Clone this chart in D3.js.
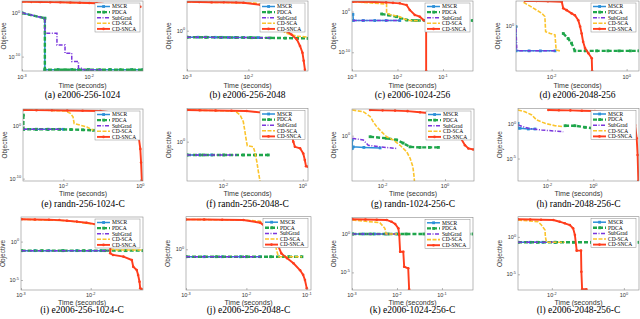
<!DOCTYPE html>
<html><head><meta charset="utf-8">
<script src="https://cdn.jsdelivr.net/npm/d3@7"></script>
<style>
body{margin:0;background:#fff}
svg{display:block}
</style></head><body>
<script>
//series + captions
const seriesNames = ['MSCR','PDCA','SubGrad','CD-SCA','CD-SNCA']
const captions = ['(a) e2006-256-1024','(b) e2006-256-2048','(c) e2006-1024-256','(d) e2006-2048-256',
  '(e) randn-256-1024-C','(f) randn-256-2048-C','(g) randn-1024-256-C','(h) randn-2048-256-C',
  '(i) e2006-256-1024-C','(j) e2006-256-2048-C','(k) e2006-1024-256-C','(l) e2006-2048-256-C']

//axis limits and ticks, as log10 exponents
const xLims = [[-3,-1.2],[-3,-1.03],[-3,-0.34],[-2.95,0.33],[-3.05,0.07],[-2.92,0.13],[-2.98,0.93],[-3.28,1.99],[-3,-1.25],[-3,-0.93],[-3,-0.31],[-2.94,0.42]]
const yLims = [[-13.3,2.75],[-0.95,0.7],[-14.6,2.6],[-0.98,0.55],[-10.45,3.2],[-0.77,0.65],[-0.85,0.5],[-8.3,2.35],[-6.3,3.2],[-0.875,0.7],[-7.3,2.2],[-7.1,2.7]]
const xTicks = [[-3,-2],[-3,-2],[-3,-2,-1],[-2,0],[-2,0],[-2,0],[-2,0],[-2,0],[-3,-2],[-3,-2,-1],[-3,-2,-1],[-2,0]]
const yTicks = [[0,-10],[0],[0,-10],[0],[0,-10],[0],[0],[0,-5],[0,-5],[0],[0,-5],[0,-5]]

//data: [log10 time, log10 objective]
const dataA = {
  'MSCR':[[-3,0],[-2.66,-1.2],[-2.66,-13],[-2.46,-13],[-2.26,-13],[-2.01,-13],[-1.69,-13],[-1.37,-13],[-1.2,-13]],
  'PDCA':[[-3,0],[-2.66,-1.2],[-2.66,-13],[-2.46,-13],[-2.36,-13],[-2.26,-13],[-2.16,-13],[-2.01,-13],[-1.84,-13],[-1.69,-13],[-1.54,-13],[-1.37,-13],[-1.2,-13]],
  'SubGrad':[[-3,0.05],[-2.66,-1.2],[-2.66,-4.65],[-2.48,-4.65],[-2.48,-7.33],[-2.36,-7.33],[-2.36,-9.23],[-2.26,-9.23],[-2.26,-11.15],[-2.16,-11.15],[-2.16,-12.66],[-2.09,-12.66],[-2.09,-13],[-1.81,-13]],
  'CD-SCA':[[-3,2.59],[-2.43,2.45],[-1.89,2.22]],
  'CD-SNCA':[[-3,2.59],[-2.86,2.56],[-2.73,2.52],[-2.58,2.49],[-2.43,2.45],[-2.28,2.4],[-2.14,2.36],[-2,2.3],[-1.89,2.22],[-1.69,1.95],[-1.47,1.72],[-1.24,1.44]]
}
const dataB = {
  'MSCR':[[-3,-0.153],[-2.82,-0.154],[-2.68,-0.155],[-2.54,-0.156],[-2.43,-0.157],[-2.33,-0.158],[-2.22,-0.159],[-2.08,-0.16],[-1.97,-0.161],[-1.84,-0.162]],
  'PDCA':[[-3,-0.153],[-2.7,-0.155],[-2.45,-0.157],[-2.2,-0.16],[-1.95,-0.165],[-1.65,-0.17],[-1.4,-0.175],[-1.2,-0.178],[-1.03,-0.18]],
  'SubGrad':[[-3,-0.153],[-1.65,-0.167]],
  'CD-SCA':[[-3,0.68],[-1.89,0.65],[-1.65,0.57],[-1.49,0.18],[-1.46,0.026],[-1.4,-0.05],[-1.32,-0.09],[-1.21,-0.13],[-1.03,-0.15]],
  'CD-SNCA':[[-3,0.68],[-2.8,0.675],[-2.6,0.67],[-2.4,0.67],[-2.2,0.665],[-2.08,0.66],[-1.81,0.61],[-1.54,0.26],[-1.38,-0.01],[-1.3,-0.09],[-1.21,-0.21],[-1.16,-0.36],[-1.12,-0.52],[-1.1,-0.71],[-1.08,-0.92]]
}
const dataC = {
  'MSCR':[[-2.98,-0.7],[-2.97,-2.2],[-2.75,-2.2],[-2.5,-2.2],[-2.25,-2.2],[-1.95,-2.2]],
  'PDCA':[[-2.35,-0.59],[-2.2,-0.84],[-2.02,-1.26],[-1.8,-2.07],[-1.6,-2.2],[-1.35,-2.2],[-1.1,-2.2],[-0.85,-2.2],[-0.6,-2.2],[-0.34,-2.2]],
  'SubGrad':[[-2.98,-2.2],[-1.95,-2.2]],
  'CD-SCA':[[-2.98,2.43],[-2.24,1.86],[-2.24,-0.42],[-2.13,-0.84],[-1.95,-1.26],[-1.84,-1.9],[-1.73,-2.2],[-1.51,-2.25]],
  'CD-SNCA':[[-2.98,2.43],[-2.75,2.4],[-2.5,2.35],[-2.25,2.25],[-2.1,2.15],[-1.95,2.03],[-1.8,1.62],[-1.73,0.39],[-1.62,-0.84],[-1.51,-1.26],[-1.43,-2.07],[-1.37,-2.49],[-1.37,-14.6]]
}
const dataD = {
  'MSCR':[[-2.95,-0.01],[-2.95,-0.54],[-2.6,-0.54],[-2.3,-0.54],[-1.91,-0.54]],
  'PDCA':[[-1.69,-0.16],[-1.56,-0.27],[-1.47,-0.37],[-1.38,-0.54],[-1.1,-0.54],[-0.8,-0.54],[-0.5,-0.54],[-0.2,-0.54],[0.1,-0.54],[0.33,-0.54]],
  'SubGrad':[[-2.95,-0.05],[-2.93,-0.48],[-2.9,-0.54],[-1.91,-0.54]],
  'CD-SCA':[[-2.75,0.52],[-2.62,0.46],[-2.4,0.35],[-2.26,0.28],[-2.18,0.21],[-2.16,-0.12],[-2.04,-0.16],[-1.91,-0.19],[-1.88,-0.52],[-1.78,-0.54]],
  'CD-SNCA':[[-2.71,0.55],[-2.4,0.55],[-2.1,0.545],[-1.73,0.535],[-1.69,0.39],[-1.6,0.35],[-1.47,0.28],[-1.38,0.24],[-1.29,0.13],[-1.24,-0.01],[-1.2,-0.16],[-1.16,-0.34],[-1.11,-0.48],[-1.02,-0.59],[-0.93,-0.7],[-0.92,-0.98]]
}
const dataE = {
  'MSCR':[[-3.04,-0.65],[-2.7,-0.65],[-2.4,-0.65],[-2,-0.65]],
  'PDCA':[[-3.04,2.05],[-3.04,-0.65],[-2.7,-0.65],[-2.4,-0.65],[-2.1,-0.65],[-1.8,-0.7],[-1.5,-0.75],[-1.22,-0.84]],
  'SubGrad':[[-3.04,-0.65],[-2,-0.65]],
  'CD-SCA':[[-3.04,3],[-2.4,2.95],[-1.95,2.82],[-1.82,2.37],[-1.75,1.72],[-1.72,0.45],[-1.56,0.12],[-1.39,-0.2],[-1.22,-0.84]],
  'CD-SNCA':[[-3.04,3],[-2.7,2.98],[-2.3,2.95],[-1.9,2.92],[-1.5,2.88],[-1.04,2.82],[-0.52,2.37],[-0.26,1.72],[-0.09,-0.51],[-0.04,-2.13],[0,-4.36],[0.02,-6.93],[0.04,-10.45]]
}
const dataF = {
  'MSCR':[[-2.92,-0.26],[-2.6,-0.26],[-2.3,-0.26]],
  'PDCA':[[-2.92,-0.26],[-2.5,-0.26],[-2,-0.26],[-1.5,-0.26],[-1.2,-0.26],[-0.87,-0.26]],
  'SubGrad':[[-2.92,-0.26],[-1.67,-0.26]],
  'CD-SCA':[[-2.92,0.62],[-2.3,0.61],[-1.71,0.6],[-1.58,0.52],[-1.5,0.39],[-1.46,0.2],[-1.42,0],[-1.4,-0.08],[-1.25,-0.1],[-1.21,-0.2],[-1.16,-0.39],[-1.12,-0.59],[-1.08,-0.77]],
  'CD-SNCA':[[-2.92,0.62],[-2.6,0.615],[-2.2,0.61],[-1.8,0.605],[-1.42,0.6],[-0.91,0.56],[-0.58,0.49],[-0.32,0.33],[-0.26,0.07],[-0.24,0],[-0.2,-0.1],[-0.07,-0.13],[0.01,-0.23],[0.05,-0.36],[0.08,-0.48],[0.13,-0.49]]
}
const dataG = {
  'MSCR':[[-2.97,-0.08],[-2.97,-0.24],[-2.94,-0.21],[-2.6,-0.22],[-2.08,-0.23]],
  'PDCA':[[-2.4,-0.02],[-1.87,-0.05],[-1.55,-0.08],[-1.34,-0.14],[-1.12,-0.21],[-0.8,-0.22],[-0.5,-0.22],[-0.21,-0.22]],
  'SubGrad':[[-2.97,-0.05],[-2.62,-0.08],[-2.46,-0.18],[-2.08,-0.21],[-1.55,-0.24]],
  'CD-SCA':[[-2.97,0.48],[-2.62,0.45],[-2.4,0.36],[-2.3,0.26],[-2.19,0.17],[-2.03,0.07],[-1.87,-0.02],[-1.66,-0.08],[-1.44,-0.18],[-1.23,-0.3],[-1.12,-0.42],[-1.03,-0.58],[-0.99,-0.77],[-0.98,-0.85]],
  'CD-SNCA':[[-2.4,0.48],[-2,0.475],[-1.6,0.47],[-1.2,0.46],[-0.8,0.44],[-0.48,0.42],[0.27,0.2],[0.48,-0.02],[0.64,-0.18],[0.75,-0.24],[0.91,-0.26]]
}
const dataH = {
  'MSCR':[[-3.28,0.17],[-3.28,-0.56],[-3.19,-0.56],[-2.83,-0.66],[-2.54,-0.66]],
  'PDCA':[[-1.23,-0.18],[-0.8,-0.18],[-0.36,-0.41],[0.07,-0.59],[0.37,-0.5],[0.8,-0.5],[1.24,-0.5]],
  'SubGrad':[[-3.28,-0.07],[-2.83,-0.56],[-2.25,-0.81],[-1.67,-0.96],[-1.31,-1.06]],
  'CD-SCA':[[-3.28,2.13],[-2.98,1.88],[-2.68,1.4],[-2.47,0.66],[-2.1,0.17],[-1.67,-0.18],[-1.31,-0.32]],
  'CD-SNCA':[[-1.96,2.13],[-1.5,2.1],[-1,2.07],[-0.5,2.03],[0.07,1.98],[0.7,1.8],[1.24,1.39],[1.82,-0.07],[1.89,-2.03],[1.93,-4.48],[1.96,-8.3]]
}
const dataI = {
  'MSCR':[[-2.99,-1.18],[-2.8,-1.18],[-2.6,-1.18],[-2.4,-1.18],[-2.2,-1.18],[-2,-1.18],[-1.85,-1.18]],
  'PDCA':[[-2.99,-1.18],[-2.7,-1.18],[-2.4,-1.18],[-2.1,-1.18],[-1.8,-1.18],[-1.5,-1.18],[-1.25,-1.18]],
  'SubGrad':[[-2.99,-1.18],[-1.72,-1.18]],
  'CD-SCA':[[-2.99,2.9],[-2.34,2.72],[-1.87,2.16],[-1.72,-1],[-1.6,-1.09],[-1.34,-1.09],[-1.25,-1.09]],
  'CD-SNCA':[[-2.99,2.9],[-2.8,2.88],[-2.6,2.85],[-2.45,2.8],[-2.34,2.72],[-2.2,2.6],[-2.06,2.46],[-1.87,2.16],[-1.8,0.64],[-1.72,-0.66],[-1.72,-1.52],[-1.68,-1.74],[-1.53,-1.96],[-1.41,-2.4],[-1.39,-3.27],[-1.34,-3.7],[-1.32,-4.35],[-1.3,-5.22],[-1.29,-6.08],[-1.27,-6.17]]
}
const dataJ = {
  'MSCR':[[-3,-0.16],[-2.7,-0.16],[-2.4,-0.16],[-2.1,-0.16],[-1.77,-0.16]],
  'PDCA':[[-3,-0.16],[-2.5,-0.16],[-2,-0.16],[-1.6,-0.16],[-1.3,-0.16],[-1.08,-0.16]],
  'SubGrad':[[-3,-0.16],[-1.77,-0.16]],
  'CD-SCA':[[-3,0.64],[-2.05,0.63],[-1.77,0.6],[-1.55,0.3],[-1.5,-0.02],[-1.47,-0.16],[-1.08,-0.16]],
  'CD-SNCA':[[-3,0.64],[-2.7,0.64],[-2.4,0.635],[-2.05,0.63],[-1.77,0.57],[-1.61,0.41],[-1.47,0.06],[-1.42,-0.09],[-1.33,-0.19],[-1.22,-0.3],[-1.11,-0.45],[-1.06,-0.55],[-1.03,-0.66],[-1,-0.84]]
}
const dataK = {
  'MSCR':[[-2.99,0.02],[-2.75,0.02],[-2.5,0.02],[-2.25,0.02],[-2,0.02]],
  'PDCA':[[-2.99,0.02],[-2.6,0.02],[-2.2,0.02],[-1.8,0.02],[-1.4,0.02],[-1,0.02],[-0.6,0.02],[-0.31,0.02]],
  'SubGrad':[[-2.99,0.02],[-2,0.02]],
  'CD-SCA':[[-2.99,1.85],[-2.38,1.5],[-2.27,0.76],[-2.24,0.02],[-2,0.02]],
  'CD-SNCA':[[-2.99,1.94],[-2.7,1.92],[-2.45,1.88],[-2.23,1.85],[-2.12,1.62],[-2.04,1.32],[-1.97,0.76],[-1.95,-0.11],[-1.93,-2.3],[-1.86,-2.3],[-1.84,-4.26],[-1.75,-4.47],[-1.73,-7.21]]
}
const dataL = {
  'MSCR':[[-2.94,-0.72],[-2.6,-0.72],[-2.25,-0.72],[-1.92,-0.72]],
  'PDCA':[[-2.94,-0.72],[-2.4,-0.72],[-1.9,-0.72],[-1.4,-0.72],[-0.9,-0.72],[-0.4,-0.72],[0.1,-0.72],[0.42,-0.72]],
  'SubGrad':[[-2.94,-0.72],[-1.92,-0.72]],
  'CD-SCA':[[-2.94,2.26],[-2.38,2.03],[-2.29,1.59],[-2.19,0.92],[-2.18,0.03],[-2.15,-0.72],[-1.64,-0.72]],
  'CD-SNCA':[[-2.94,2.35],[-2.6,2.32],[-2.3,2.3],[-1.96,2.26],[-1.78,2.03],[-1.64,1.82],[-1.5,1.59],[-1.41,1.15],[-1.36,0.25],[-1.31,-1.84],[-1.19,-1.84],[-1.18,-4.65],[-1.16,-7],[-1.04,-7]]
}
const panelData = [dataA,dataB,dataC,dataD,dataE,dataF,dataG,dataH,dataI,dataJ,dataK,dataL]

//layout: plot boxes [left, top, right, bottom], text offsets per row
const boxes = [
  [22,1,143,71],[187,1,308,71],[352,1,473,71],[516,1,639,71],
  [23,109,143,181],[187,108.5,308,181],[352,109,474,181],[518,108.5,639,181],
  [21,217,143,290],[186,216.7,311,290],[352,217.3,473,290],[518,216.7,639,290]
]
const rowText = [[8,16.5,27],[7,15,25.5],[7,14.5,22.5]]
const look = {
  'MSCR':{color:'#2a8fd8',dash:null,width:1.5,marker:'square'},
  'PDCA':{color:'#1fa64b',dash:'4,2',width:2.4,marker:'square'},
  'SubGrad':{color:'#7a36dc',dash:'4,1.5,1,1.5',width:1.5,marker:null},
  'CD-SCA':{color:'#fbc42c',dash:'4,1.5',width:1.6,marker:null},
  'CD-SNCA':{color:'#ff3d1c',dash:null,width:1.9,marker:'dot'}
}

const svg = d3.select('body').append('svg').attr('width',640).attr('height',319)
const tickFont = 'Liberation Sans, Arial, sans-serif'
const serif = 'Liberation Serif, Times New Roman, serif'

const powLabel = (sel, e) => {
  sel.append('tspan').text('10')
  sel.append('tspan').attr('dy',-2.2).attr('font-size',3.8).text(e==0?'0':('-'+Math.abs(e)))
}

panelData.forEach((data,i)=>{
  const [l,t,r,b] = boxes[i]
  const [dTick,dTime,dCap] = rowText[Math.floor(i/4)]
  const x = d3.scaleLog().domain(xLims[i].map(e=>10**e)).range([l,r])
  const y = d3.scaleLog().domain(yLims[i].map(e=>10**e)).range([b,t])
  const g = svg.append('g')
  g.append('clipPath').attr('id','clip'+i).append('rect')
    .attr('x',l).attr('y',t).attr('width',r-l).attr('height',b-t)
  const plot = g.append('g').attr('clip-path',`url(#clip${i})`)
  const line = d3.line().x(d=>x(10**d[0])).y(d=>y(10**d[1]))

  seriesNames.forEach(name=>{
    const st = look[name]
    const pts = data[name]
    plot.append('path').attr('d',line(pts)).attr('fill','none')
      .attr('stroke',st.color).attr('stroke-width',st.width)
      .attr('stroke-dasharray',st.dash)
    if(st.marker=='square'){
      plot.selectAll(null).data(pts).enter().append('rect')
        .attr('x',d=>x(10**d[0])-1.4).attr('y',d=>y(10**d[1])-1.4)
        .attr('width',2.8).attr('height',2.8).attr('fill',st.color)
    } else if(st.marker=='dot'){
      plot.selectAll(null).data(pts).enter().append('circle')
        .attr('cx',d=>x(10**d[0])).attr('cy',d=>y(10**d[1]))
        .attr('r',1.3).attr('fill',st.color)
    }
  })

  //box + inward ticks
  g.append('rect').attr('x',l).attr('y',t).attr('width',r-l).attr('height',b-t)
    .attr('fill','none').attr('stroke','#8a8a8a').attr('stroke-width',0.6)
  g.append('g').attr('transform',`translate(0,${b})`)
    .call(d3.axisBottom(x).tickValues(xTicks[i].map(e=>10**e)).tickSize(-2).tickFormat(()=>''))
  g.append('g').attr('transform',`translate(${l},0)`)
    .call(d3.axisLeft(y).tickValues(yTicks[i].map(e=>10**e)).tickSize(-2).tickFormat(()=>''))
  g.selectAll('.domain').remove()
  g.selectAll('.tick line').attr('stroke','#8a8a8a').attr('stroke-width',0.6)

  xTicks[i].forEach(e=>{
    const tx = g.append('text').attr('x',x(10**e)).attr('y',b+dTick)
      .attr('text-anchor','middle').attr('font-family',tickFont).attr('font-size',5.5).attr('fill','#333')
    powLabel(tx,e)
  })
  yTicks[i].forEach(e=>{
    const ty = g.append('text').attr('x',l-2).attr('y',y(10**e)+2)
      .attr('text-anchor','end').attr('font-family',tickFont).attr('font-size',5.5).attr('fill','#333')
    powLabel(ty,e)
  })

  g.append('text').attr('x',(l+r)/2).attr('y',b+dTime).attr('text-anchor','middle')
    .attr('font-family',tickFont).attr('font-size',7).attr('fill','#333').text('Time (seconds)')
  g.append('text').attr('transform',`translate(${l-16},${(t+b)/2}) rotate(-90)`)
    .attr('text-anchor','middle').attr('font-family',tickFont).attr('font-size',6.5).attr('fill','#333').text('Objective')
  g.append('text').attr('x',(l+r)/2).attr('y',b+dCap).attr('text-anchor','middle')
    .attr('font-family',serif).attr('font-size',9.5).attr('fill','#000').text(captions[i])

  //legend
  const lw = 45, lh = 29, lx0 = r-3-lw, ly0 = t+2
  const leg = g.append('g')
  leg.append('rect').attr('x',lx0).attr('y',ly0).attr('width',lw).attr('height',lh)
    .attr('fill','#fff').attr('stroke','#8a8a8a').attr('stroke-width',0.5)
  seriesNames.forEach((name,k)=>{
    const st = look[name]
    const yy = ly0 + 3.5 + k*5.6
    leg.append('line').attr('x1',lx0+2).attr('x2',lx0+15).attr('y1',yy).attr('y2',yy)
      .attr('stroke',st.color).attr('stroke-width',st.width).attr('stroke-dasharray',st.dash)
    if(st.marker=='square') leg.append('rect').attr('x',lx0+7.2).attr('y',yy-1.4).attr('width',2.8).attr('height',2.8).attr('fill',st.color)
    if(st.marker=='dot') leg.append('circle').attr('cx',lx0+8.5).attr('cy',yy).attr('r',1.3).attr('fill',st.color)
    leg.append('text').attr('x',lx0+17).attr('y',yy+1.8).attr('font-family',serif)
      .attr('font-size',5.5).attr('fill','#000').text(name)
  })
})
</script>
</body></html>
